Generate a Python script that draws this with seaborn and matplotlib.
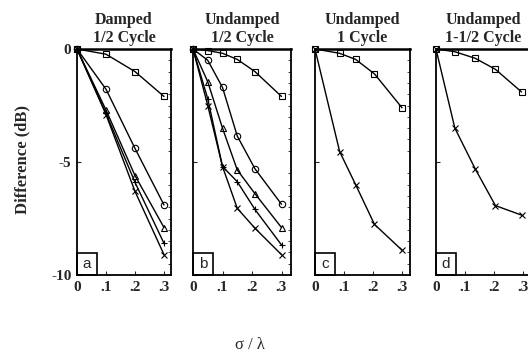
import matplotlib
matplotlib.use("Agg")
import matplotlib.pyplot as plt
import seaborn as sns
import pandas as pd
from matplotlib.patches import Rectangle

sns.set_style("ticks")
plt.rcParams['font.family'] = ['Liberation Serif', 'DejaVu Serif']

titles = ["Damped\n1/2 Cycle", "Undamped\n1/2 Cycle", "Undamped\n1 Cycle", "Undamped\n1-1/2 Cycle"]
letters = ["a", "b", "c", "d"]

# Panel a
xa = [0, 0.1, 0.2, 0.3]
a_square = [0, -0.23, -1.0, -2.1]
a_circle = [0, -1.78, -4.4, -6.9]
a_triangle = [0, -2.7, -5.6, -7.9]
a_plus = [0, -2.85, -5.9, -8.6]
a_cross = [0, -2.9, -6.3, -9.1]

# Panel b
xb = [0, 0.05, 0.1, 0.15, 0.21, 0.3]
b_square = [0, -0.07, -0.19, -0.46, -1.0, -2.1]
b_circle = [0, -0.5, -1.7, -3.85, -5.3, -6.87]
b_triangle = [0, -1.45, -3.5, -5.35, -6.4, -7.9]
b_plus = [0, -2.2, -5.2, -5.87, -7.1, -8.67]
b_cross = [0, -2.5, -5.2, -7.05, -7.93, -9.1]

# Panel c
xc = [0, 0.085, 0.14, 0.205, 0.3]
c_square = [0, -0.19, -0.46, -1.1, -2.6]
c_cross = [0, -4.54, -6.0, -7.76, -8.9]

# Panel d
xd = [0, 0.065, 0.135, 0.205, 0.295]
d_square = [0, -0.12, -0.41, -0.9, -1.9]
d_cross = [0, -3.5, -5.3, -6.93, -7.35]

xtick_vals = [0, 0.1, 0.2, 0.3]
xtick_labels = ["0", ".1", ".2", ".3"]
ytick_vals = [0, -5, -10]
ytick_labels = ["0", "-5", "-10"]

markers = {"square": "s", "circle": "o", "triangle": "^", "plus": "+", "cross": "x"}
panels = [
    (xa, {"square": a_square, "circle": a_circle, "triangle": a_triangle, "plus": a_plus, "cross": a_cross}),
    (xb, {"square": b_square, "circle": b_circle, "triangle": b_triangle, "plus": b_plus, "cross": b_cross}),
    (xc, {"square": c_square, "cross": c_cross}),
    (xd, {"square": d_square, "cross": d_cross}),
]

W, H = 528, 356
fig = plt.figure(figsize=(W / 100, H / 100), dpi=100)
lefts = [77, 193, 315, 436]
widths = [94, 98, 95, 95]
top, bottom = 49, 275
px_per_tenth = [29.0, 29.5, 29.0, 29.0]

for i, (xs, series) in enumerate(panels):
    ax = fig.add_axes([lefts[i] / W, 1 - bottom / H, widths[i] / W, (bottom - top) / H])
    for name, ys in series.items():
        df = pd.DataFrame({"x": xs, "y": ys})
        m = markers[name]
        kw = dict(marker=m, markersize=4.6 if m in "so^" else 5,
                  markeredgewidth=0.8, markeredgecolor="black")
        if m in "so^":
            kw["markerfacecolor"] = "none"
        sns.lineplot(data=df, x="x", y="y", ax=ax, color="black", linewidth=1.0,
                     sort=False, estimator=None, clip_on=False, **kw)
    ax.set_xlim(0, widths[i] / px_per_tenth[i] * 0.1)
    ax.set_ylim(-10, 0)
    ax.set_xlabel("")
    ax.set_ylabel("")
    ax.set_xticks(xtick_vals)
    ax.set_xticklabels(xtick_labels, fontweight="bold", fontsize=11)
    ax.set_yticks(ytick_vals)
    if i == 0:
        ax.set_yticklabels(ytick_labels, fontweight="bold", fontsize=11)
    else:
        ax.set_yticklabels([])
    ax.set_yticks([-0.5 * k for k in range(21)], minor=True)
    ax.tick_params(axis="both", which="major", direction="in", length=3, width=0.8, pad=4,
                   top=False, right=False)
    ax.tick_params(axis="y", which="minor", direction="in", length=2, width=0.6,
                   left=False, right=True)
    for s in ax.spines.values():
        s.set_linewidth(1.3)
        s.set_color("black")
    ax.spines["top"].set_linewidth(1.8)
    ax.set_title(titles[i], fontweight="bold", fontsize=11.5, pad=5, linespacing=1.15)
    bw, bh = 20 / widths[i], 22 / (bottom - top)
    ax.add_patch(Rectangle((0, 0), bw, bh, transform=ax.transAxes, fill=False,
                           edgecolor="black", linewidth=1.2, clip_on=False))
    ax.text(bw / 2, bh / 2, letters[i], transform=ax.transAxes, ha="center", va="center",
            fontsize=11, family=["Liberation Sans", "DejaVu Sans"])

fig.text(22 / W, 1 - 160 / H, "Difference (dB)", rotation=90, ha="center", va="center",
         fontweight="bold", fontsize=12)
fig.text(250 / W, 1 - 345 / H, "σ / λ", ha="center", va="center", fontsize=12)

fig.savefig("out.png", dpi=100)
